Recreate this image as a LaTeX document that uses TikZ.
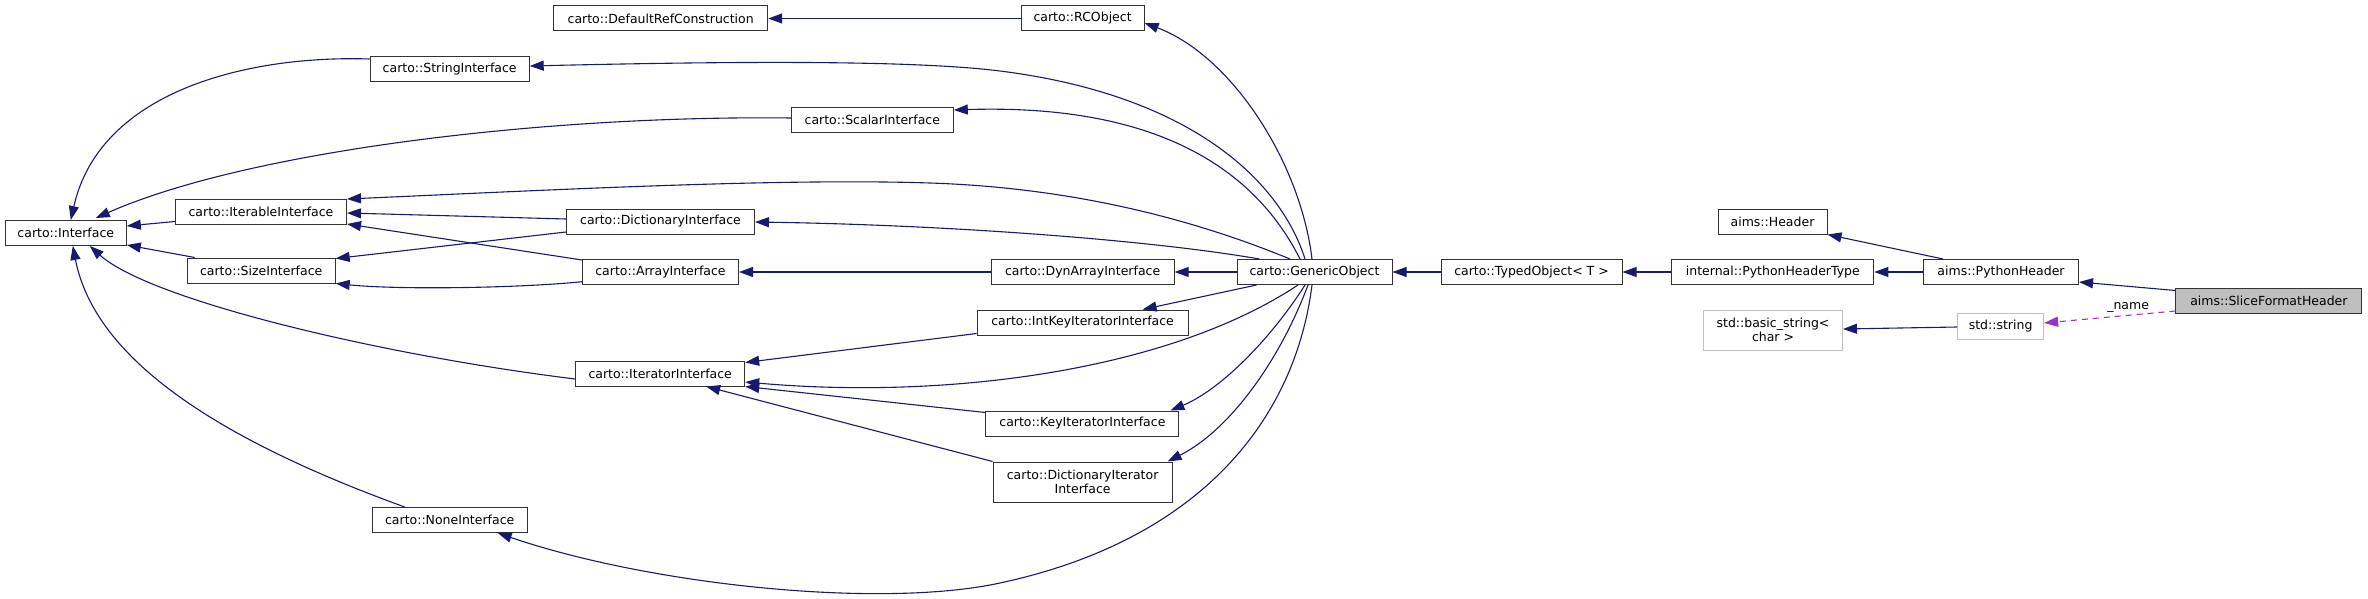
\documentclass[tikz,border=0pt]{standalone}
\usepackage{fontspec}
\setmainfont{DejaVu Sans}
\usetikzlibrary{arrows.meta}
\definecolor{navy}{RGB}{25,25,112}
\definecolor{orchid}{RGB}{154,50,205}
\definecolor{boxgray}{RGB}{191,191,191}
\tikzset{
  cls/.style={draw=black!80, line width=1pt, rectangle, inner sep=0pt, minimum height=25pt,
    align=center, font=\fontsize{12.5}{14}\selectfont},
  ext/.style={cls, draw=boxgray},
  inh/.style={draw=navy, line width=1.1pt, -{Triangle[length=14pt,width=10pt]}},
  usr/.style={draw=orchid, line width=1.1pt, dash pattern=on 6pt off 5pt, -{Triangle[length=14pt,width=10pt]}},
}
\begin{document}
\begin{tikzpicture}[x=1pt,y=-1pt]
\useasboundingbox (0,0) rectangle (2368,599);
% nodes
\node[cls, minimum width=214pt] (drc) at (660.7,18.5) {carto::DefaultRefConstruction};
\node[cls, minimum width=123pt] (rco) at (1082.6,18.5) {carto::RCObject};
\node[cls, minimum width=159pt] (str) at (449.7,69.5) {carto::StringInterface};
\node[cls, minimum width=162pt] (sca) at (872.3,120) {carto::ScalarInterface};
\node[cls, minimum width=171pt] (itb) at (261,212) {carto::IterableInterface};
\node[cls, minimum width=121pt] (ifc) at (65.8,233) {carto::Interface};
\node[cls, minimum width=188pt] (dic) at (660.5,221.5) {carto::DictionaryInterface};
\node[cls, minimum width=148pt] (siz) at (261.2,270.5) {carto::SizeInterface};
\node[cls, minimum width=156pt] (arr) at (660.5,272) {carto::ArrayInterface};
\node[cls, minimum width=183pt] (dyn) at (1082.6,272) {carto::DynArrayInterface};
\node[cls, minimum width=155pt] (gen) at (1314.5,272) {carto::GenericObject};
\node[cls, minimum width=181pt] (tob) at (1531.5,272) {carto::TypedObject< T >};
\node[cls, minimum width=202pt] (pht) at (1772.8,272) {internal::PythonHeaderType};
\node[cls, minimum width=155pt] (phd) at (2001,272) {aims::PythonHeader};
\node[cls, minimum width=109pt] (hdr) at (1772.5,221.5) {aims::Header};
\node[cls, minimum width=186pt, fill=boxgray] (sfh) at (2268.9,301) {aims::SliceFormatHeader};
\node[ext, minimum width=139pt, minimum height=40pt] (bstr) at (1773,330) {std::basic\_string<\\char >};
\node[ext, minimum width=86pt, minimum height=26pt] (sstr) at (2000.6,326) {std::string};
\node[cls, minimum width=211pt] (iki) at (1082.6,322.5) {carto::IntKeyIteratorInterface};
\node[cls, minimum width=193pt] (kii) at (1082.4,423.5) {carto::KeyIteratorInterface};
\node[cls, minimum width=179pt, minimum height=40pt] (dii) at (1082.6,482) {carto::DictionaryIterator\\Interface};
\node[cls, minimum width=169pt] (iti) at (660.2,373.5) {carto::IteratorInterface};
\node[cls, minimum width=155pt] (non) at (449.7,520) {carto::NoneInterface};
% edges
\draw[inh] (rco.west) -- (drc.east);
\draw[inh] ([xshift=-2.5pt]gen.north) .. controls (1300,160) and (1230,55) .. ([yshift=-4.5pt]rco.east);
\draw[inh] ([xshift=-9.5pt]gen.north) .. controls (1280,180) and (1190,95) .. (1000,71)
   .. controls (905,59) and (700,62) .. ([yshift=3.5pt]str.east);
\draw[inh] ([xshift=-14.5pt]gen.north) .. controls (1240,140) and (1110,105) .. ([yshift=10pt]sca.east);
\draw[inh] ([yshift=10.5pt]str.west) .. controls (250,55) and (100,90) .. ([xshift=5pt]ifc.north);
\draw[inh] ([yshift=2pt]sca.west) .. controls (550,115) and (250,150) .. ([xshift=30pt,yshift=2pt]ifc.north);
\draw[inh] ([xshift=-24.5pt]gen.north) .. controls (1200,222) and (1080,188) .. (930,183)
   .. controls (780,178) and (550,190) .. (itb.north east);
\draw[inh] ([yshift=3.5pt]itb.south west) -- ([yshift=7pt]ifc.east);
\draw[inh] ([yshift=2.5pt]dic.west) -- ([yshift=-1pt]itb.east);
\draw[inh] ([yshift=-1pt]arr.north west) -- ([yshift=1pt]itb.south east);
\draw[inh] ([xshift=8pt]siz.north west) -- ([yshift=1pt]ifc.south east);
\draw[inh] ([yshift=2.5pt]dic.south west) -- ([yshift=-1pt]siz.north east);
\draw[inh] ([yshift=3.3pt]arr.south west) .. controls (520,288) and (400,290) .. (siz.south east);
\draw[inh] ([xshift=23pt]gen.north west) .. controls (1150,240) and (950,225) .. ([yshift=-0.5pt]dic.east);
\draw[inh] (dyn.west) -- (arr.east);
\draw[inh] (gen.west) -- (dyn.east);
\draw[inh] (tob.west) -- (gen.east);
\draw[inh] (pht.west) -- (tob.east);
\draw[inh] (phd.west) -- (pht.east);
\draw[inh] ([xshift=-58pt]phd.north) -- (hdr.south east);
\draw[inh] ([yshift=-2.5pt]sfh.north west) -- ([yshift=3pt]phd.south east);
\draw[usr] ([yshift=3pt]sfh.south west) -- node[pos=0.36, anchor=south, inner sep=1pt, yshift=1pt, font=\fontsize{12.5}{14}\selectfont] (lbl) {\_name} ([yshift=3pt]sstr.east);
\draw[inh] ([yshift=-1pt]sstr.west) -- ([yshift=1pt]bstr.east);
\draw[inh] ([xshift=20pt]gen.south west) -- ([xshift=60pt]iki.north);
\draw[inh] ([xshift=-16.5pt]gen.south) .. controls (1170,370) and (950,400) .. ([yshift=-8.5pt]iti.east);
\draw[inh] ([yshift=2pt]iki.south west) -- ([yshift=-2pt]iti.north east);
\draw[inh] ([yshift=-2pt]kii.north west) -- (iti.south east);
\draw[inh] ([xshift=-9.5pt]gen.south) .. controls (1270,340) and (1220,390) .. ([xshift=-9pt]kii.north east);
\draw[inh] (dii.north west) -- ([xshift=46pt]iti.south);
\draw[inh] ([xshift=-6.5pt]gen.south) .. controls (1280,360) and (1230,430) .. ([xshift=-5pt]dii.north east);
\draw[inh] ([yshift=-5.5pt]iti.west) .. controls (380,355) and (150,300) .. ([xshift=24pt]ifc.south);
\draw[inh] ([xshift=33pt]non.north west) .. controls (220,440) and (95,360) .. ([xshift=7pt]ifc.south);
\draw[inh] ([xshift=-2.5pt]gen.south) .. controls (1295,420) and (1200,540) .. (1000,583)
   .. controls (880,609) and (650,585) .. ([xshift=-30pt]non.south east);
\end{tikzpicture}
\end{document}
